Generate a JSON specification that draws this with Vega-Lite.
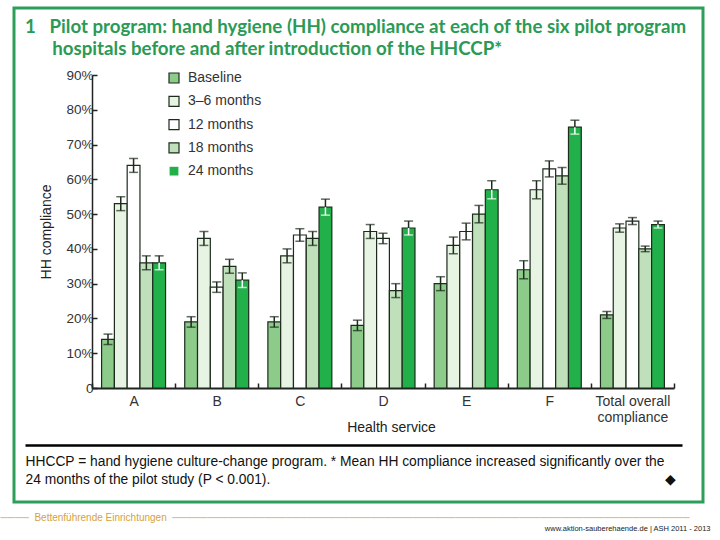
{
  "$schema": "https://vega.github.io/schema/vega-lite/v6.json",
  "width": 689,
  "height": 494,
  "autosize": {"type": "none"},
  "padding": {"left": 14, "top": 8, "right": 17, "bottom": 38},
  "background": "white",
  "view": {"stroke": "#2e9e5b", "strokeWidth": 3},
  "config": {"font": "Liberation Sans"},
  "title": {
    "text": [
      "1\u00a0\u00a0\u00a0Pilot program: hand hygiene (HH) compliance at each of the six pilot program",
      "\u200b\u00a0\u00a0\u00a0\u00a0\u00a0\u00a0hospitals before and after introduction of the HHCCP*"
    ],
    "orient": "top",
    "anchor": "start",
    "frame": "group",
    "dx": 11,
    "offset": -51,
    "font": "Lato",
    "fontSize": 18.7,
    "fontWeight": "bold",
    "color": "#2b9a55",
    "lineHeight": 22
  },
  "datasets": {
    "hh": [
      {"group": "A", "series": "Baseline", "value": 14, "lo": 12.5, "hi": 15.5},
      {"group": "A", "series": "3–6 months", "value": 53, "lo": 51, "hi": 55},
      {"group": "A", "series": "12 months", "value": 64, "lo": 62, "hi": 66},
      {"group": "A", "series": "18 months", "value": 36, "lo": 34, "hi": 38},
      {"group": "A", "series": "24 months", "value": 36, "lo": 34, "hi": 38},
      {"group": "B", "series": "Baseline", "value": 19, "lo": 17.5, "hi": 20.5},
      {"group": "B", "series": "3–6 months", "value": 43, "lo": 41, "hi": 45},
      {"group": "B", "series": "12 months", "value": 29, "lo": 27.5, "hi": 30.5},
      {"group": "B", "series": "18 months", "value": 35, "lo": 33, "hi": 37},
      {"group": "B", "series": "24 months", "value": 31, "lo": 28.9, "hi": 33.1},
      {"group": "C", "series": "Baseline", "value": 19, "lo": 17.5, "hi": 20.5},
      {"group": "C", "series": "3–6 months", "value": 38, "lo": 36, "hi": 40},
      {"group": "C", "series": "12 months", "value": 44, "lo": 42.2, "hi": 45.8},
      {"group": "C", "series": "18 months", "value": 43, "lo": 41, "hi": 45},
      {"group": "C", "series": "24 months", "value": 52, "lo": 49.7, "hi": 54.3},
      {"group": "D", "series": "Baseline", "value": 18, "lo": 16.5, "hi": 19.5},
      {"group": "D", "series": "3–6 months", "value": 45, "lo": 43, "hi": 47},
      {"group": "D", "series": "12 months", "value": 43, "lo": 41.5, "hi": 44.5},
      {"group": "D", "series": "18 months", "value": 28, "lo": 26, "hi": 30},
      {"group": "D", "series": "24 months", "value": 46, "lo": 44, "hi": 48},
      {"group": "E", "series": "Baseline", "value": 30, "lo": 28, "hi": 32},
      {"group": "E", "series": "3–6 months", "value": 41, "lo": 38.6, "hi": 43.4},
      {"group": "E", "series": "12 months", "value": 45, "lo": 42.6, "hi": 47.4},
      {"group": "E", "series": "18 months", "value": 50, "lo": 47.5, "hi": 52.5},
      {"group": "E", "series": "24 months", "value": 57, "lo": 54.4, "hi": 59.6},
      {"group": "F", "series": "Baseline", "value": 34, "lo": 31.4, "hi": 36.6},
      {"group": "F", "series": "3–6 months", "value": 57, "lo": 54.4, "hi": 59.6},
      {"group": "F", "series": "12 months", "value": 63, "lo": 60.7, "hi": 65.3},
      {"group": "F", "series": "18 months", "value": 61, "lo": 58.6, "hi": 63.4},
      {"group": "F", "series": "24 months", "value": 75, "lo": 73, "hi": 77},
      {"group": "Total overall compliance", "series": "Baseline", "value": 21, "lo": 20, "hi": 22},
      {"group": "Total overall compliance", "series": "3–6 months", "value": 46, "lo": 44.8, "hi": 47.2},
      {"group": "Total overall compliance", "series": "12 months", "value": 48, "lo": 47, "hi": 49},
      {"group": "Total overall compliance", "series": "18 months", "value": 40, "lo": 39.2, "hi": 40.8},
      {"group": "Total overall compliance", "series": "24 months", "value": 47, "lo": 46, "hi": 48}
    ],
    "footer": [
      {"note": "Bettenführende Einrichtungen"},
      {"note": "www.aktion-sauberehaende.de  |  ASH 2011 - 2013"}
    ]
  },
  "layer": [
    {
      "data": {"name": "hh"},
      "encoding": {
        "x": {
          "field": "group",
          "type": "nominal",
          "sort": ["A", "B", "C", "D", "E", "F", "Total overall compliance"],
          "scale": {"range": [78, 660], "paddingInner": 0, "paddingOuter": 0},
          "axis": {
            "orient": "bottom",
            "offset": -114,
            "title": "Health service",
            "titleFontSize": 14,
            "titleFontWeight": "normal",
            "titleColor": "#222",
            "titleX": 377,
            "titleY": 39,
            "titleBaseline": "middle",
            "labelAngle": 0,
            "labelFontSize": 14,
            "labelColor": "#333",
            "labelLineHeight": 16,
            "labelPadding": 11,
            "labelExpr": "datum.label == 'Total overall compliance' ? ['Total overall', 'compliance'] : datum.label",
            "domainColor": "#222",
            "domainWidth": 2,
            "tickColor": "#222",
            "tickWidth": 1.5,
            "tickSize": -5,
            "tickBand": "extent",
            "grid": false
          }
        },
        "xOffset": {
          "field": "series",
          "type": "nominal",
          "sort": ["Baseline", "3–6 months", "12 months", "18 months", "24 months"],
          "scale": {"paddingInner": 0, "paddingOuter": 0.75}
        }
      },
      "layer": [
        {
          "mark": {"type": "bar", "stroke": "#1c2b1c", "strokeWidth": 1.2},
          "encoding": {
            "y": {
              "field": "value",
              "type": "quantitative",
              "title": "HH compliance",
              "scale": {"domain": [0, 90], "range": [380, 67], "nice": false},
              "axis": {
                "orient": "left",
                "offset": -78,
                "values": [0, 10, 20, 30, 40, 50, 60, 70, 80, 90],
                "labelExpr": "datum.value == 0 ? '0' : datum.value + '%'",
                "grid": false,
                "domainColor": "#222",
                "domainWidth": 1.5,
                "tickColor": "#222",
                "tickWidth": 1.5,
                "tickSize": -5,
                "labelFontSize": 13.5,
                "labelColor": "#333",
                "labelPadding": 4,
                "titleFontSize": 14,
                "titleFontWeight": "normal",
                "titleColor": "#222",
                "titlePadding": 12
              }
            },
            "fill": {
              "field": "series",
              "type": "nominal",
              "sort": ["Baseline", "3–6 months", "12 months", "18 months", "24 months"],
              "scale": {
                "domain": ["Baseline", "3–6 months", "12 months", "18 months", "24 months"],
                "range": ["#8dcb8a", "#e7f3e3", "#ffffff", "#bfe0bb", "#22b04b"]
              },
              "legend": {
                "orient": "none",
                "legendX": 153,
                "legendY": 63,
                "title": null,
                "padding": 0,
                "rowPadding": 7.3,
                "symbolType": "square",
                "symbolSize": 100,
                "symbolStrokeColor": "#1c2b1c",
                "symbolStrokeWidth": 1.2,
                "labelFontSize": 14,
                "labelColor": "#333",
                "labelOffset": 7
              }
            }
          }
        },
        {
          "mark": {"type": "rule", "color": "#1c2b1c", "strokeWidth": 1.5},
          "encoding": {
            "y": {"field": "value", "type": "quantitative", "title": "HH compliance"},
            "y2": {"field": "hi"}
          }
        },
        {
          "mark": {"type": "rule", "strokeWidth": 1.5},
          "encoding": {
            "y": {"field": "lo", "type": "quantitative", "title": "HH compliance"},
            "y2": {"field": "value"},
            "color": {
              "field": "series",
              "type": "nominal",
              "scale": {
                "domain": ["Baseline", "3–6 months", "12 months", "18 months", "24 months"],
                "range": ["#1c2b1c", "#1c2b1c", "#1c2b1c", "#1c2b1c", "#ffffff"]
              },
              "legend": null
            }
          }
        },
        {
          "mark": {"type": "tick", "color": "#1c2b1c", "thickness": 1.5, "size": 9},
          "encoding": {
            "y": {"field": "hi", "type": "quantitative", "title": "HH compliance"}
          }
        },
        {
          "mark": {"type": "tick", "thickness": 1.5, "size": 9},
          "encoding": {
            "y": {"field": "lo", "type": "quantitative", "title": "HH compliance"},
            "color": {
              "field": "series",
              "type": "nominal",
              "scale": {
                "domain": ["Baseline", "3–6 months", "12 months", "18 months", "24 months"],
                "range": ["#1c2b1c", "#1c2b1c", "#1c2b1c", "#1c2b1c", "#ffffff"]
              },
              "legend": null
            }
          }
        }
      ]
    },
    {
      "data": {"name": "footer"},
      "mark": {"type": "point", "opacity": 0},
      "encoding": {
        "x": {
          "field": "note",
          "type": "nominal",
          "sort": null,
          "scale": {"type": "point", "range": [11, 668], "padding": 0},
          "axis": {
            "orient": "bottom",
            "offset": -57,
            "domainColor": "#000000",
            "domainWidth": 2.5,
            "ticks": false,
            "tickSize": 0,
            "grid": false,
            "labelAngle": 0,
            "labelOverlap": false,
            "labelBound": false,
            "labelLimit": 2000,
            "labelBaseline": "top",
            "labelPadding": 67,
            "labelLineHeight": 12,
            "labelFontSize": {"condition": {"test": "datum.value == 'Bettenführende Einrichtungen'", "value": 10}, "value": 7.5},
            "labelColor": {"condition": {"test": "datum.value == 'Bettenführende Einrichtungen'", "value": "#d6a23c"}, "value": "#222222"},
            "labelAlign": {"condition": {"test": "datum.value == 'Bettenführende Einrichtungen'", "value": "left"}, "value": "right"},
            "labelOffset": {"condition": {"test": "datum.value == 'Bettenführende Einrichtungen'", "value": -25}, "value": 28},
            "labelExpr": "datum.label == 'Bettenführende Einrichtungen' ? '────\u00a0\u00a0' + datum.label + '\u00a0\u00a0─────────────────────────────────────────────────────────────────────────' : ['', datum.label]",
            "title": [
              "HHCCP = hand hygiene culture-change program. * Mean HH compliance increased significantly over the",
              "24 months of the pilot study (P < 0.001).\u00a0\u00a0\u00a0\u00a0\u00a0\u00a0\u00a0\u00a0\u00a0\u00a0\u00a0\u00a0\u00a0\u00a0\u00a0\u00a0\u00a0\u00a0\u00a0\u00a0\u00a0\u00a0\u00a0\u00a0\u00a0\u00a0\u00a0\u00a0\u00a0\u00a0\u00a0\u00a0\u00a0\u00a0\u00a0\u00a0\u00a0\u00a0\u00a0\u00a0\u00a0\u00a0\u00a0\u00a0\u00a0\u00a0\u00a0\u00a0\u00a0\u00a0\u00a0\u00a0\u00a0\u00a0\u00a0\u00a0\u00a0\u00a0\u00a0\u00a0\u00a0\u00a0\u00a0\u00a0\u00a0\u00a0\u00a0\u00a0\u00a0\u00a0\u00a0\u00a0\u00a0\u00a0\u00a0\u00a0\u00a0\u00a0\u00a0\u00a0\u00a0\u00a0\u00a0\u00a0\u00a0\u00a0\u00a0\u00a0\u00a0\u00a0\u00a0\u00a0\u00a0\u00a0\u00a0\u00a0\u00a0\u00a0\u00a0\u00a0\u00a0\u00a0\u00a0\u25c6"
            ],
            "titleX": 11,
            "titleY": 9,
            "titleAlign": "left",
            "titleAnchor": "start",
            "titleBaseline": "top",
            "titleFontSize": 13.8,
            "titleFontWeight": "normal",
            "titleColor": "#111111",
            "titleLineHeight": 18
          }
        }
      }
    }
  ],
  "resolve": {"scale": {"x": "independent"}, "axis": {"x": "independent"}}
}
